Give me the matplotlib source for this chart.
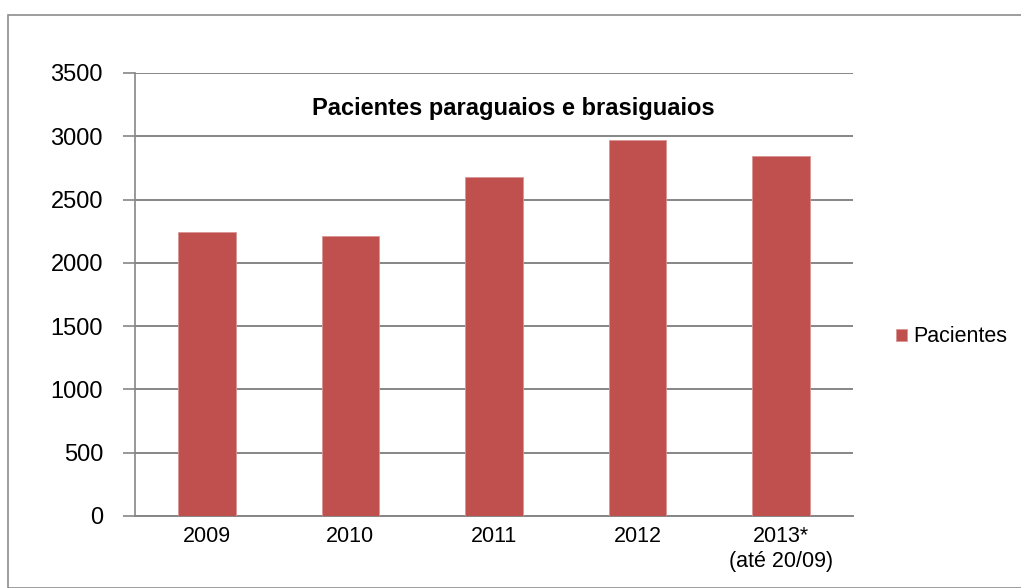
import matplotlib
matplotlib.use('Agg')
import matplotlib.pyplot as plt
from matplotlib.patches import Rectangle
import numpy as np

categories = ['2009', '2010', '2011', '2012', '2013*\n(até 20/09)']
pacientes = [2240, 2215, 2675, 2970, 2848]
yticks = [0, 500, 1000, 1500, 2000, 2500, 3000, 3500]

plt.rcParams['font.family'] = ['Liberation Sans', 'DejaVu Sans']

fig = plt.figure(figsize=(10.21, 5.88), dpi=100)
fig.patches.append(Rectangle((8 / 1021, 0), 1.2, 1 - 15 / 588, transform=fig.transFigure,
                             fill=False, edgecolor='#8c8c8c', linewidth=1.2))

ax = fig.add_axes([135 / 1021, 1 - 516 / 588, 718 / 1021, 443 / 588])
x = np.arange(len(categories))
ax.bar(x, pacientes, width=0.4, color='#C0504D', edgecolor='#d99594', linewidth=0.6,
       label='Pacientes', zorder=3)

ax.set_xlim(-0.5, len(categories) - 0.5)
ax.set_ylim(0, 3500)
ax.set_yticks(yticks)
ax.set_xticks(x)
ax.set_xticklabels(categories, linespacing=1.25)
ax.yaxis.grid(True, color='#868686', linewidth=1.4, zorder=0)
ax.set_axisbelow(True)
for s in ['top', 'right']:
    ax.spines[s].set_visible(False)
ax.spines['left'].set_color('#868686')
ax.spines['bottom'].set_color('#868686')
ax.spines['left'].set_linewidth(1.2)
ax.spines['bottom'].set_linewidth(1.4)
ax.tick_params(axis='y', length=9, width=1.2, color='#868686', labelsize=17, pad=14)
ax.tick_params(axis='x', length=0, labelsize=15.5, pad=7)

fig.text(513 / 1021, 1 - 109 / 588, 'Pacientes paraguaios e brasiguaios',
         ha='center', va='center', fontsize=17, fontweight='bold')

fig.legend(loc='center left', bbox_to_anchor=(896 / 1021, 1 - 337 / 588), frameon=False,
           fontsize=15.5, handlelength=0.5, handleheight=0.5, handletextpad=0.3,
           borderpad=0, borderaxespad=0)

plt.savefig('out.png')
